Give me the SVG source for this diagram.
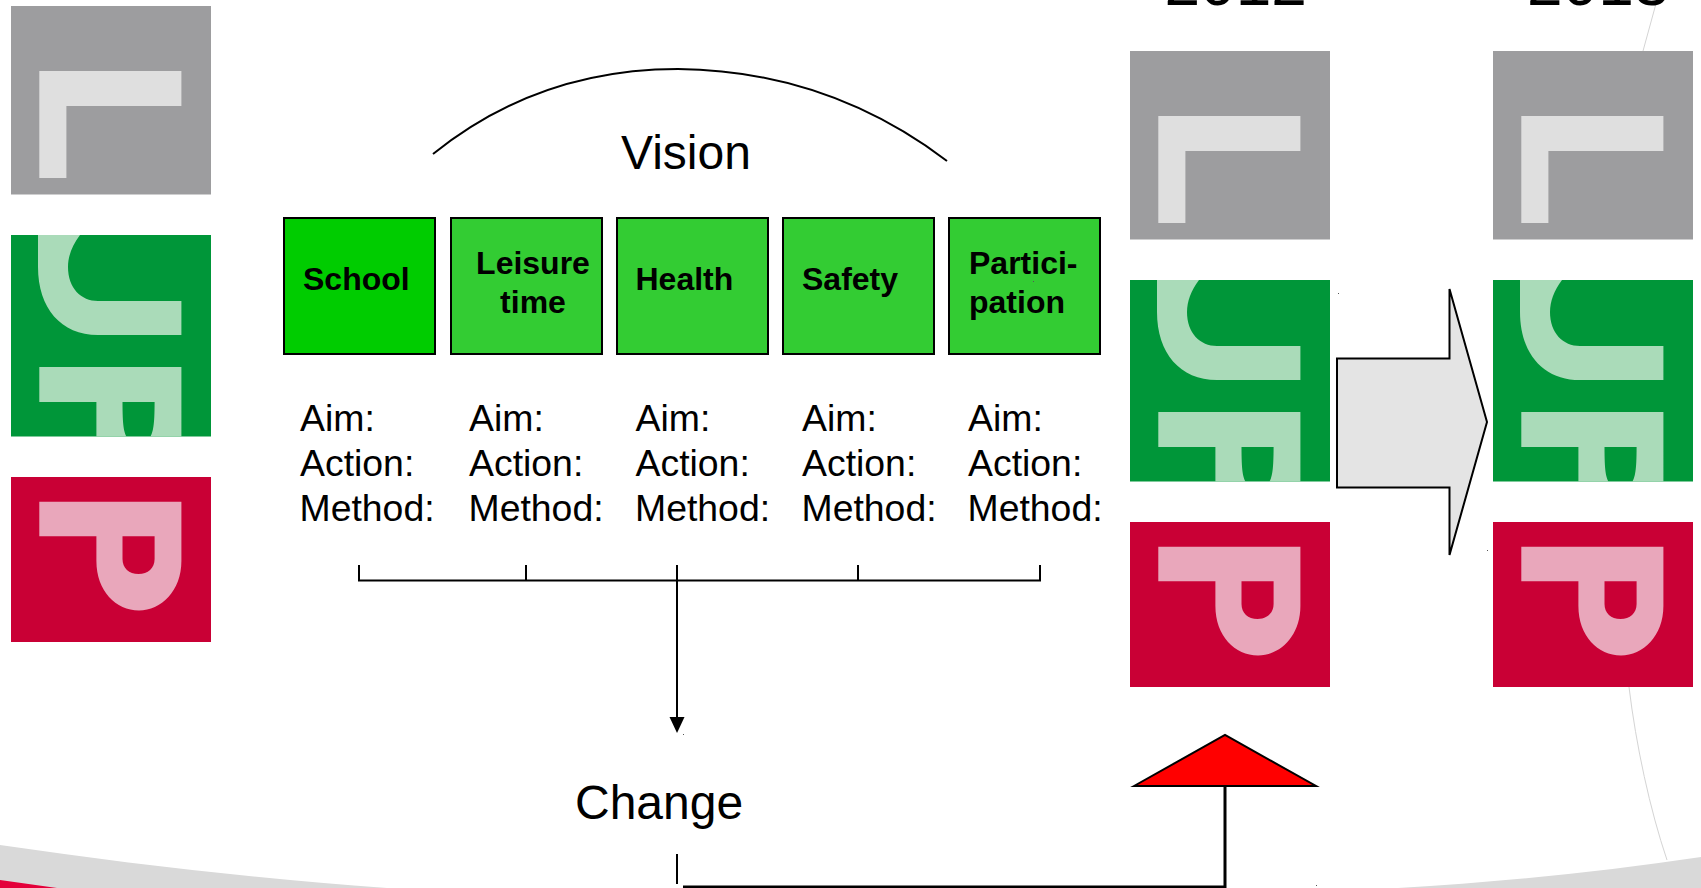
<svg xmlns="http://www.w3.org/2000/svg" xmlns:xlink="http://www.w3.org/1999/xlink" width="1701" height="888" viewBox="0 0 1701 888">
<style>
text{font-family:"Liberation Sans",Arial,sans-serif;fill:#000}
.b{font-size:32px;font-weight:700}
.t{font-size:37.4px}
.h{font-size:48px}
.y{font-size:64px}
.box{fill:#3c3;stroke:#000;stroke-width:2}
.ln{fill:none;stroke:#000;stroke-width:2}
.d{fill:#555}
</style>
<defs>
<g id="ulf">
<rect x="0" y="0" width="200" height="636" fill="#fff"/>
<rect x="0" y="0" width="200" height="188.500" fill="#9d9d9f"/>
<path d="M28.300 65H170.400V100H55.400V172H28.300Z" fill="#dfdfdf"/>
<rect x="0" y="229" width="200" height="201.500" fill="#009639"/>
<path d="M27 229H69C61 240 57 250 57 261C57 282 70 295 87 295H170.400V329H87C50 329 27 302 27 261C27 250 27 240 27 229Z" fill="#aadbb9"/>
<path d="M28.300 361H170.400V430.500H139.500C142 426 143.600 420 143.600 396H111.500C111.500 420 113 426 115.500 430.500H85.400V396H28.300Z" fill="#aadbb9"/>
<rect x="0" y="471" width="200" height="165" fill="#c90035"/>
<path d="M28.300 495.700H170.400V555C170.400 585 150 604.500 128 604.500C105 604.500 85.400 585 85.400 555V530.300H28.300ZM111.500 530.300V553C111.500 562 118 568 127.500 568C137 568 143.600 562 143.600 553V530.300Z" fill-rule="evenodd" fill="#e9a7bb"/>
</g>
</defs>
<g id="background">
<path d="M0 845C130 864 260 879 387 888H0Z" fill="#d9d9d9"/>
<path d="M0 880L57 888H0Z" fill="#e4003a"/>
<path d="M1398 888C1500 882 1600 872 1701 857V888Z" fill="#d9d9d9"/>
<path d="M1657 0L1643 51M1629 687C1636 745 1650 810 1667 860" fill="none" stroke="#d4d4d4" stroke-width="1"/>
</g>
<g id="logo-left"><use xlink:href="#ulf" href="#ulf" x="11" y="6"/></g>
<g id="logo-2012"><use xlink:href="#ulf" href="#ulf" x="1130" y="51"/></g>
<g id="logo-later"><use xlink:href="#ulf" href="#ulf" x="1493" y="51"/></g>
<g id="year-2012"><text class="y" x="1164.500" y="5">2012</text></g>
<g id="year-later"><text class="y" x="1527" y="5">2013</text></g>
<g id="vision"><text class="h" x="621" y="168.500">Vision</text></g>
<g id="change"><text class="h" x="575" y="819">Change</text></g>
<g id="school"><rect x="284" y="218" width="151" height="136" fill="#0c0" stroke="#000" stroke-width="2"/><text class="b" x="303" y="290">School</text></g>
<g id="leisure"><rect class="box" x="451" y="218" width="151" height="136"/><text class="b" x="533" y="274" text-anchor="middle">Leisure</text><text class="b" x="533" y="313" text-anchor="middle">time</text></g>
<g id="health"><rect class="box" x="617" y="218" width="151" height="136"/><text class="b" x="635.500" y="290">Health</text></g>
<g id="safety"><rect class="box" x="783" y="218" width="151" height="136"/><text class="b" x="802" y="290">Safety</text></g>
<g id="participation"><rect class="box" x="949" y="218" width="151" height="136"/><text class="b" x="969" y="274">Partici-</text><text class="b" x="969" y="313">pation</text></g>
<g id="col1"><text class="t" x="300" y="431">Aim:</text><text class="t" x="300" y="476">Action:</text><text class="t" x="299.500" y="520.500">Method:</text></g>
<g id="col2"><text class="t" x="469" y="431">Aim:</text><text class="t" x="469" y="476">Action:</text><text class="t" x="468.500" y="520.500">Method:</text></g>
<g id="col3"><text class="t" x="635.500" y="431">Aim:</text><text class="t" x="635.500" y="476">Action:</text><text class="t" x="635" y="520.500">Method:</text></g>
<g id="col4"><text class="t" x="802" y="431">Aim:</text><text class="t" x="802" y="476">Action:</text><text class="t" x="801.500" y="520.500">Method:</text></g>
<g id="col5"><text class="t" x="968" y="431">Aim:</text><text class="t" x="968" y="476">Action:</text><text class="t" x="967.500" y="520.500">Method:</text></g>
<g id="connectors">
<path class="ln" d="M433 154C510 92 595 69 678 69C770 70 860 95 947 161"/>
<path class="ln" d="M359 565V580.500H1040V565M526 565V580M858 565V580"/>
<path class="ln" d="M677 565V719"/>
<path d="M669.500 717H684.500L677 733Z" fill="#000"/>
<path class="ln" d="M677 854V884"/>
<path d="M683 887H1225V786" fill="none" stroke="#000" stroke-width="3"/>
<path d="M1134 786L1225 735L1316 786Z" fill="#f00" stroke="#000" stroke-width="2"/>
<path d="M1337 358.500H1449.500V289L1487 422L1449.500 555V487.500H1337Z" fill="#e4e4e4" stroke="#000" stroke-width="2"/>
</g>
<g id="specks">
<rect class="d" x="1338" y="293" width="1" height="1"/>
<rect class="d" x="1487" y="550" width="1" height="1"/>
<rect class="d" x="1316" y="885" width="1" height="1"/>
<rect class="d" x="683" y="734" width="1" height="1"/>
<rect class="d" x="1033" y="281" width="1" height="1"/>
</g>
</svg>
